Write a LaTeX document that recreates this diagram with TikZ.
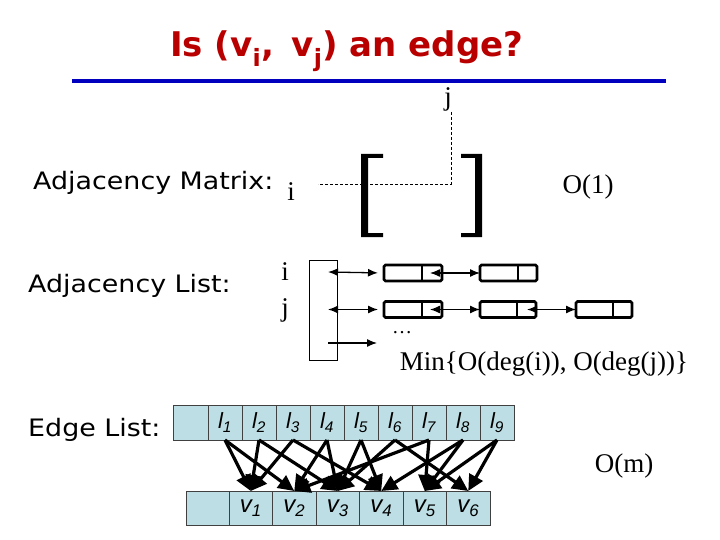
\documentclass[tikz,border=0pt]{standalone}
\usepackage{fontspec}
\setmainfont{Liberation Serif}
\newfontfamily\comicf[FakeStretch=1.12]{DejaVu Sans}
\newfontfamily\titlef{DejaVu Sans}
\newfontfamily\arialf{Liberation Sans}
\usetikzlibrary{arrows.meta,calc}
\definecolor{titlered}{RGB}{185,0,0}
\definecolor{lineblue}{RGB}{0,0,190}
\definecolor{cellblue}{RGB}{189,222,228}
\begin{document}
\begin{tikzpicture}[x=1pt,y=-1pt,
  titlestyle/.style={font=\titlef\bfseries\fontsize{34}{40}\selectfont, text=titlered, inner sep=0, anchor=base west},
  heading/.style={font=\comicf\fontsize{24}{28}\selectfont, anchor=base west, inner sep=0},
  serif/.style={font=\fontsize{27}{31}\selectfont, inner sep=0},
  blueline/.style={draw=lineblue, line width=3.5pt},
  lcell/.style={draw=black!75, line width=0.8pt, fill=cellblue, minimum width=34pt, minimum height=35pt, inner sep=0, outer sep=0, anchor=north west, font=\arialf\itshape\fontsize{22}{26}\selectfont},
  vcell/.style={draw=black!75, line width=0.8pt, fill=cellblue, minimum width=43.5pt, minimum height=34pt, inner sep=0, outer sep=0, anchor=north west, font=\arialf\itshape\fontsize{24}{28}\selectfont},
  edgearrow/.style={line width=3.2pt, -{Triangle[length=16pt,width=15pt]}},
  listbox/.style={draw, line width=2.6pt, rounded corners=1.5pt, minimum height=16pt, inner sep=0, outer sep=0},
  ptr/.style={line width=1.3pt, {Latex[length=10pt,width=8pt]}-{Latex[length=10pt,width=8pt]}},
  ptrone/.style={line width=1.3pt, -{Latex[length=10pt,width=8pt]}},
  matdash/.style={line width=0.8pt, dash pattern=on 3pt off 2pt},
]
\useasboundingbox (0,0) rectangle (720,540);

% title and rule
\node[titlestyle] (title) at (170,57) {Is (v\textsubscript{i}, \,v\textsubscript{j}) an edge?};
\coordinate (bl) at (72,81);
\coordinate (br) at (666,81);
\draw[blueline] (bl) -- (br);

% adjacency matrix
\node[heading] (hmat) at (33,190) {Adjacency Matrix:};
\node[serif] (mi) at (291,192) {i};
\node[serif] (mj) at (448,99) {j};
\coordinate (jtop) at (451,112);
\coordinate (corner) at (451,184);
\coordinate (ileft) at (318,184);
\draw[matdash] (jtop) -- (corner) -- (ileft);
\fill (361,154) -- (383,154) -- (383,158) -- (368,158) -- (368,233) -- (383,233) -- (383,237) -- (361,237) -- cycle;
\fill (482,154) -- (461,154) -- (461,158) -- (475,158) -- (475,233) -- (461,233) -- (461,237) -- (482,237) -- cycle;
\node[serif] (o1) at (588,187) {O(1)};

% adjacency list
\node[heading] (hlist) at (28,292) {Adjacency List:};
\node[serif] (li) at (285,272) {i};
\node[serif] (lj) at (285,310) {j};
\node[draw, line width=0.8pt, minimum width=28pt, minimum height=100pt, inner sep=0] (alist) at (323,310) {};
\node[listbox, minimum width=58pt] (b11) at (413,273) {};
\node[listbox, minimum width=57pt] (b12) at (508.5,273) {};
\node[listbox, minimum width=58pt] (b21) at (413,309.5) {};
\node[listbox, minimum width=56pt] (b22) at (508,309.5) {};
\node[listbox, minimum width=56pt] (b23) at (604,309.5) {};
\foreach \b/\f in {b11/0.655, b12/0.667, b21/0.655, b22/0.66, b23/0.66}
  \draw[line width=2pt] ($(\b.north west)!\f!(\b.north east)$) -- ($(\b.south west)!\f!(\b.south east)$);
\coordinate (r1) at (328,272);
\coordinate (r2) at (328,309.5);
\coordinate (r3) at (328,343);
\coordinate (r3e) at (377,343);
\draw[ptr, shorten >=6pt] (r1) -- (b11.west);
\draw[ptr, shorten >=6pt] (r2) -- (b21.west);
\draw[ptrone] (r3) -- (r3e);
\coordinate (p11) at (430,273);
\coordinate (p21) at (430,309.5);
\coordinate (p22) at (527,309.5);
\draw[ptr] (p11) -- (b12.west);
\draw[ptr] (p21) -- (b22.west);
\draw[ptr] (p22) -- (b23.west);
\node[font=\fontsize{20}{24}\selectfont, inner sep=0] (dots) at (402,333) {\dots};
\node[serif] (minc) at (544,364) {Min\{O(deg(i)), O(deg(j))\}};

% edge list
\node[heading] (hedge) at (28,436) {Edge List:};
\node[lcell, minimum width=35pt] (le) at (173,405) {};
\foreach \k in {1,...,9}
  \node[lcell] (l\k) at ({208+(\k-1)*34},405) {l\textsubscript{\k}};
\node[vcell, minimum width=43pt] (ve) at (186,491) {};
\foreach \k in {1,...,6}
  \node[vcell] (v\k) at ({229+(\k-1)*43.5},491) {v\textsubscript{\k}};
\foreach \a/\b in {1/1,1/2,2/1,2/3,3/1,3/4,4/2,4/3,5/3,5/4,6/3,6/6,7/2,7/5,8/4,8/5,9/5,9/6}
  \draw[edgearrow] (l\a.south) -- (v\b.north);
\node[serif] (om) at (624,466) {O(m)};
\end{tikzpicture}
\end{document}
